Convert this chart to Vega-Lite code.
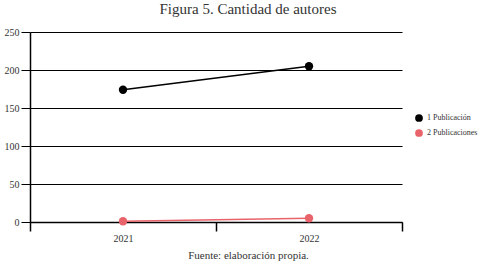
{
  "$schema": "https://vega.github.io/schema/vega-lite/v6.json",
  "width": 372,
  "height": 190,
  "autosize": "none",
  "padding": {"left": 30, "top": 32, "right": 85, "bottom": 46},
  "background": "white",
  "title": {
    "text": "Figura 5. Cantidad de autores",
    "font": "'Liberation Serif', serif",
    "fontSize": 15,
    "fontWeight": "normal",
    "color": "#333",
    "anchor": "middle",
    "frame": "group",
    "dx": 32,
    "offset": 10
  },
  "data": {
    "values": [
      {"year": "2021", "series": "1 Publicación", "value": 174},
      {"year": "2022", "series": "1 Publicación", "value": 205},
      {"year": "2021", "series": "2 Publicaciones", "value": 1},
      {"year": "2022", "series": "2 Publicaciones", "value": 5}
    ]
  },
  "config": {
    "view": {"stroke": null},
    "font": "'Liberation Serif', serif"
  },
  "mark": {"type": "line", "point": {"size": 70, "filled": true, "opacity": 1}, "strokeWidth": 1.5},
  "encoding": {
    "x": {
      "field": "year",
      "type": "nominal",
      "bandPosition": 0.5,
      "scale": {"type": "band", "paddingInner": 0, "paddingOuter": 0},
      "axis": {
        "title": "Fuente: elaboración propia.",
        "titleFont": "'Liberation Serif', serif",
        "titleFontWeight": "normal",
        "titleFontSize": 11,
        "titleColor": "#333",
        "titlePadding": 6,
        "titleX": 218,
        "labelAngle": 0,
        "labelFont": "'Liberation Serif', serif",
        "labelFontSize": 10,
        "labelColor": "#333",
        "labelPadding": 2,
        "tickBand": "extent",
        "tickSize": 9,
        "tickColor": "black",
        "domainColor": "black",
        "domainWidth": 1.5,
        "tickWidth": 1.5
      }
    },
    "y": {
      "field": "value",
      "type": "quantitative",
      "scale": {"domain": [0, 250]},
      "axis": {
        "title": null,
        "values": [0, 50, 100, 150, 200, 250],
        "grid": true,
        "gridColor": "black",
        "gridOpacity": 1,
        "gridWidth": 1.2,
        "tickSize": 9,
        "tickColor": "black",
        "domainColor": "black",
        "domainWidth": 1.5,
        "labelFont": "'Liberation Serif', serif",
        "labelFontSize": 10,
        "labelColor": "#333",
        "labelPadding": 2
      }
    },
    "color": {
      "field": "series",
      "type": "nominal",
      "scale": {"domain": ["1 Publicación", "2 Publicaciones"], "range": ["#000000", "#e8636a"]},
      "legend": {
        "title": null,
        "orient": "none",
        "legendX": 385,
        "legendY": 82,
        "labelFont": "'Liberation Serif', serif",
        "labelFontSize": 8,
        "labelColor": "#333",
        "symbolType": "circle",
        "symbolSize": 60,
        "symbolStrokeWidth": 0,
        "rowPadding": 7
      }
    }
  }
}
